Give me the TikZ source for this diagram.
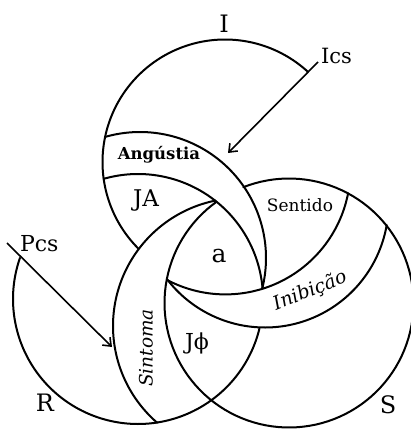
\documentclass[tikz,border=0pt]{standalone}
\usepackage{fontspec}
\setmainfont{DejaVu Serif}
\usetikzlibrary{arrows.meta}
\newcommand{\ringarc}[5]{\draw[ring] plot[domain=#4:#5,samples=120] ({#1+#3*cos(\x)},{#2+#3*sin(\x)});}
\begin{document}
\begin{tikzpicture}[x=1pt,y=-1pt,
  ring/.style={line width=2pt, line cap=round, line join=round},
  lbl/.style={inner sep=0pt, outer sep=0pt},
  ptr/.style={line width=1.6pt, -{Straight Barb[length=7pt,width=11pt]}}]
\useasboundingbox[fill=white] (0,0) rectangle (411,431);
% circle I (outer arc)
\ringarc{225}{162}{122.5}{135}{312.7}
% circle R: upper arc (lower edge of Angustia) and lower arc
\ringarc{138}{299}{125}{254}{355.2}
\ringarc{138}{299}{125}{13.6}{199.2}
% Angustia upper edge
\ringarc{140}{258}{126}{254}{374}
% circle S
\ringarc{289}{303}{124.5}{248.5}{594.5}
% Sintoma outer edge
\ringarc{241}{326}{128}{130.9}{258.5}
% Inibicao upper edge and lower edge
\ringarc{225.4}{169.4}{125}{11}{117.8}
\ringarc{265}{204}{123.5}{9.8}{142.2}
% arrows
\coordinate (icsfrom) at (318,62);
\coordinate (icsto) at (228,153);
\coordinate (pcsfrom) at (7,243);
\coordinate (pcsto) at (112,347);
\draw[ptr] (icsfrom) -- (icsto);
\draw[ptr] (pcsfrom) -- (pcsto);
% labels
\node[lbl, font=\fontsize{24}{24}\selectfont] (lI) at (224,24) {I};
\node[lbl, font=\fontsize{21}{21}\selectfont, anchor=west] (lIcs) at (321,56) {Ics};
\node[lbl, font=\fontsize{22}{22}\selectfont, anchor=west] (lPcs) at (20,244) {Pcs};
\node[lbl, font=\fontsize{24}{24}\selectfont] (lR) at (45,403) {R};
\node[lbl, font=\fontsize{24}{24}\selectfont] (lS) at (388,405) {S};
\node[lbl, font=\fontsize{16.5}{16.5}\selectfont\bfseries] (lAng) at (159,155) {Angústia};
\node[lbl, font=\fontsize{23}{23}\selectfont] (lJA) at (146,201) {JA};
\node[lbl, font=\fontsize{17}{17}\selectfont] (lSen) at (300,205) {Sentido};
\node[lbl, font=\fontsize{25}{25}\selectfont] (la) at (219,256) {a};
\node[lbl, font=\fontsize{19}{19}\selectfont\itshape, rotate=22] (lIni) at (310,291) {Inibição};
\node[lbl, font=\fontsize{18.5}{18.5}\selectfont\itshape, rotate=90] (lSin) at (146,348) {Sintoma};
\node[lbl, font=\fontsize{22}{22}\selectfont] (lJp) at (197,343) {Jϕ};
\end{tikzpicture}
\end{document}
